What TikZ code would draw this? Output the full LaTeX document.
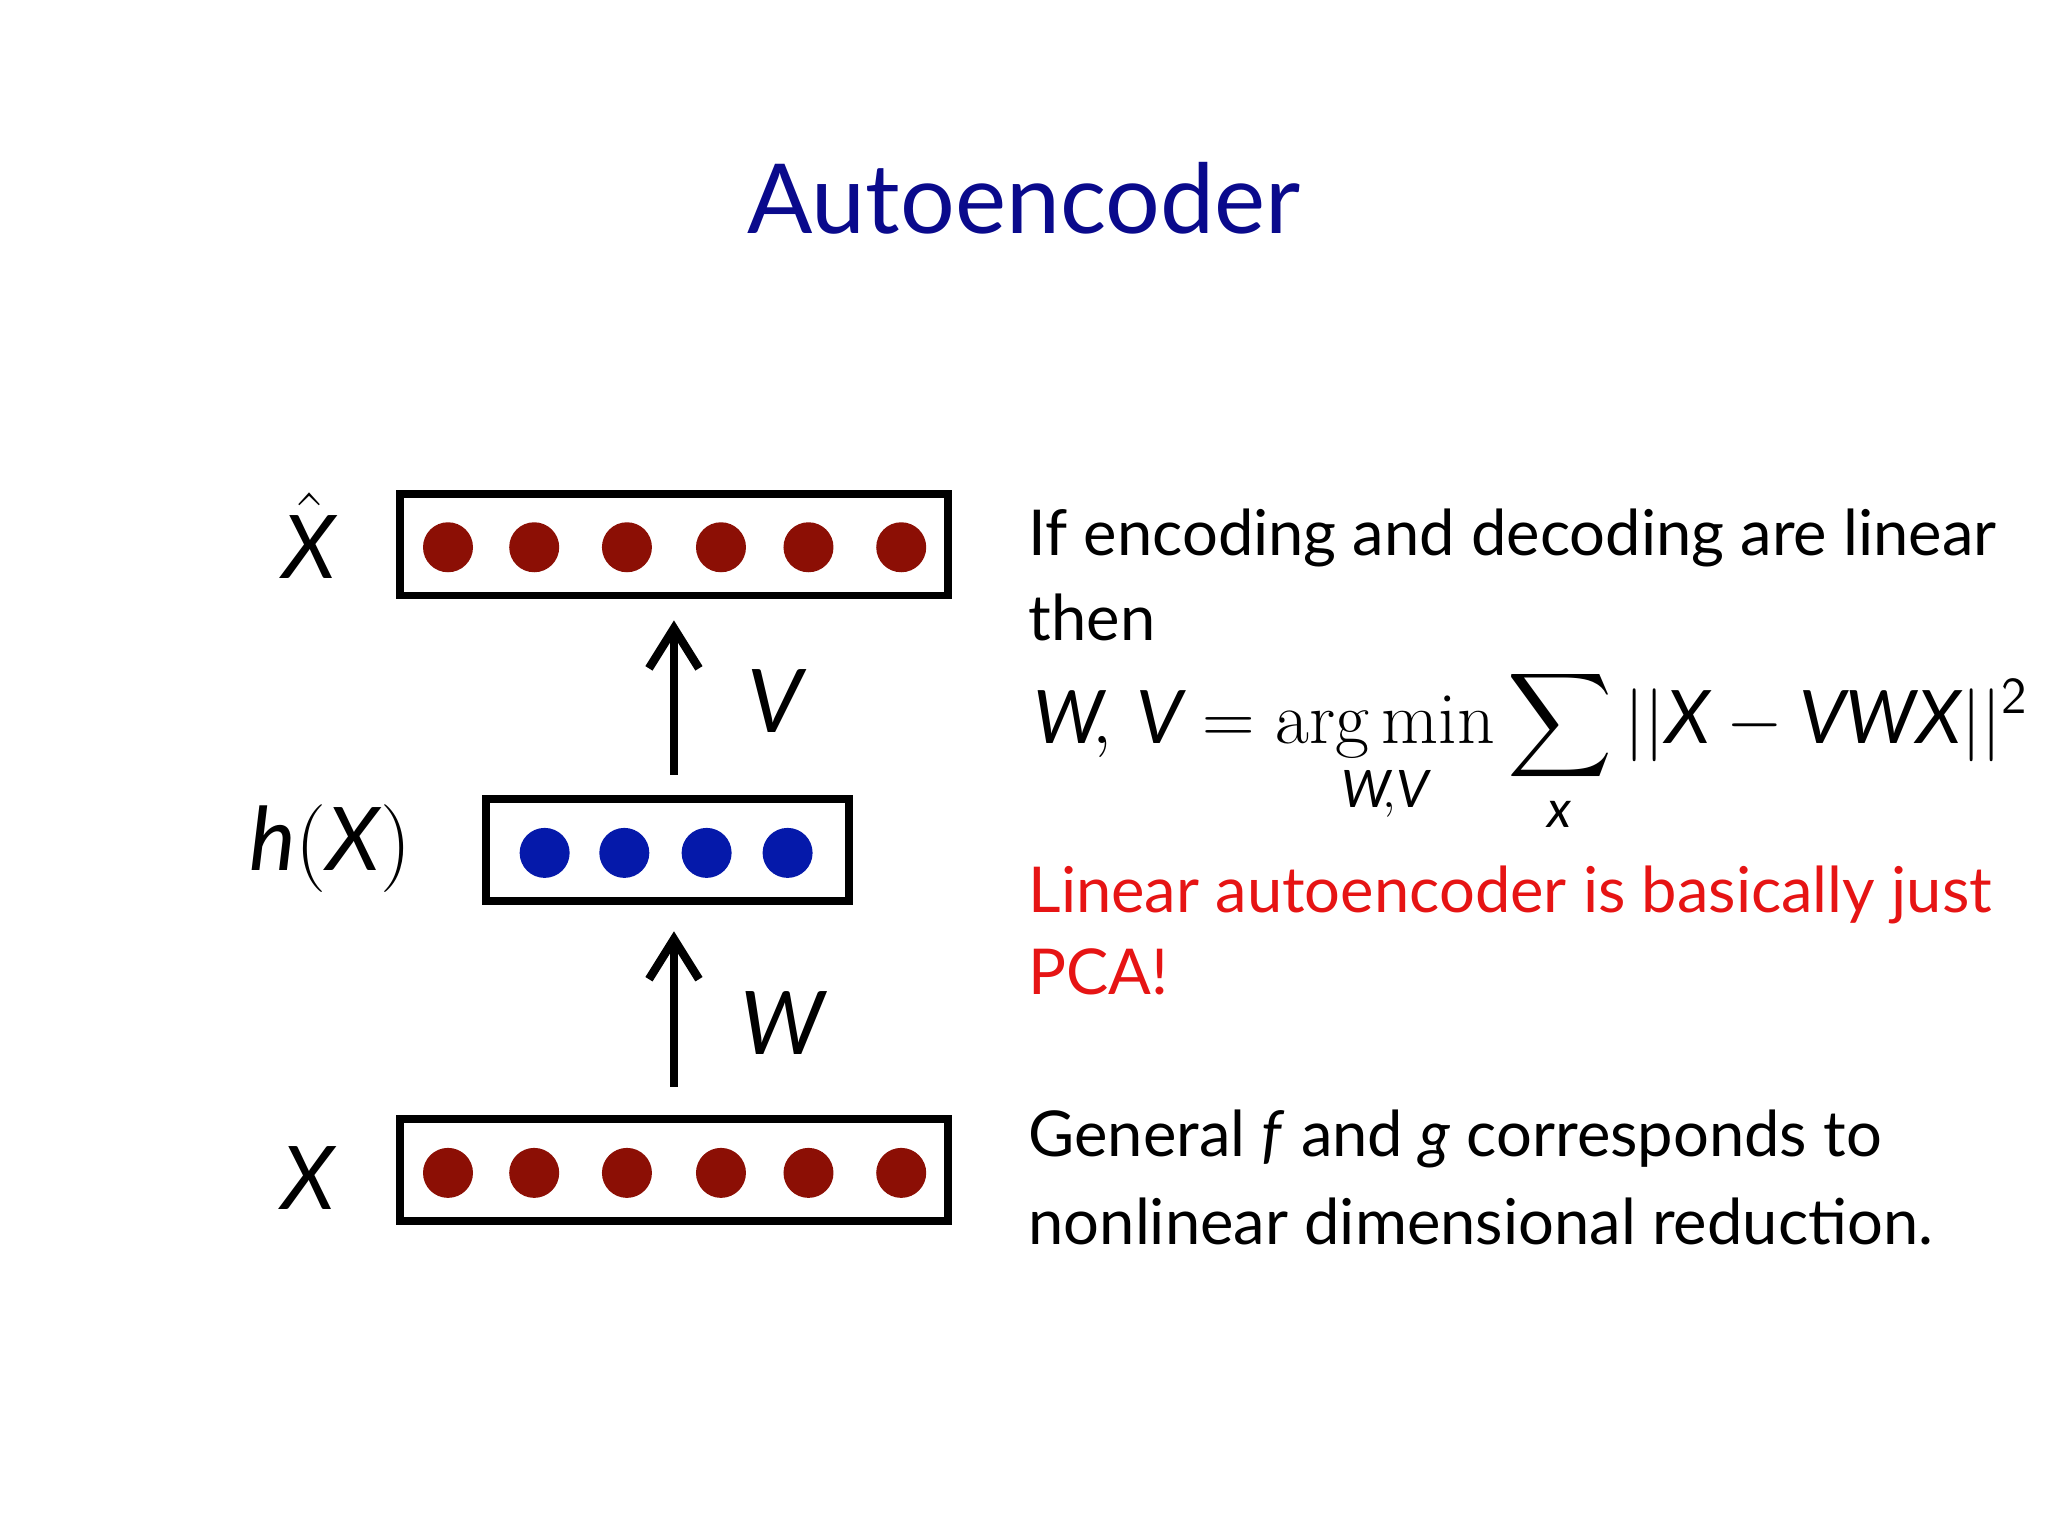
\documentclass[tikz,border=0pt]{standalone}
\usepackage{amsmath}
\usepackage{fontspec}
\setmainfont{Lato}
\usetikzlibrary{arrows.meta}
\definecolor{titleblue}{RGB}{10,10,140}
\definecolor{unitred}{RGB}{140,15,5}
\definecolor{unitblue}{RGB}{5,25,170}
\definecolor{pcared}{RGB}{230,20,20}
\newcommand{\mv}[1]{\textit{#1}}
\newcommand{\serif}[1]{\text{\fontfamily{lmr}\selectfont #1}}

\begin{document}
\begin{tikzpicture}[x=0.01306cm,y=-0.01306cm]
\useasboundingbox (0,0) rectangle (1568,1176);
\tikzset{layer/.style={draw,line width=2.2pt},
         unit/.style={circle,minimum size=0.5cm,inner sep=0pt},
         lbl/.style={font=\fontsize{25}{30}\selectfont},
         txt/.style={anchor=west,font=\fontsize{18}{22}\selectfont}}

%title
\node[text=titleblue,font=\fontsize{27.5}{33}\selectfont] (title) at (784,152) {Autoencoder};

%the three layers
\draw[layer] (306,378) rectangle (726,456);
\draw[layer] (372,612) rectangle (650,690);
\draw[layer] (306,857) rectangle (726,935);
\foreach \x [count=\i] in {343,409,480,552,619,690} {
    \node[unit,fill=unitred] (top\i) at (\x,419) {};
    \node[unit,fill=unitred] (bot\i) at (\x,898) {};
}
\foreach \x [count=\i] in {417,478,541,603}
    \node[unit,fill=unitblue] (mid\i) at (\x,653) {};

%arrows between layers
\coordinate (vs) at (516,593);
\coordinate (ve) at (516,475);
\coordinate (ws) at (516,832);
\coordinate (we) at (516,713);
\draw[-{Straight Barb[length=4mm,width=5mm]},line width=2.4pt] (vs) -- (ve);
\draw[-{Straight Barb[length=4mm,width=5mm]},line width=2.4pt] (ws) -- (we);

%labels
\node[lbl] (xhat) at (237,410) {$\hat{\mv{X}}$};
\node[lbl] (v) at (595,537) {\mv{V}};
\node[lbl] (h) at (253,650) {$\mv{h}\serif{(}\mv{X}\serif{)}$};
\node[lbl] (w) at (600,783) {\mv{W}};
\node[lbl] (x) at (237,902) {\mv{X}};

%text on the right
\node[txt] (t1) at (778,412) {If encoding and decoding are linear};
\node[txt] (t2) at (778,473) {then};
\node[txt,font=\fontsize{21}{26}\selectfont] (eq) at (782,575)
    {$\displaystyle\mv{W}\!,\,\mv{V}=\mathop{\serif{arg\,min}}\limits_{\mv{W}\!,\mv{V}}\sum\limits_{\mv{x}}||\mv{X}-\mv{VWX}||^{\textsf{2}}$};
\node[txt,text=pcared] (t3) at (778,685) {Linear autoencoder is basically just};
\node[txt,text=pcared] (t4) at (778,744) {PCA!};
\node[txt] (t5) at (778,872) {General \textit{f} and \textit{g} corresponds to};
\node[txt] (t6) at (778,935) {nonlinear dimensional reduction.};
\end{tikzpicture}
\end{document}
